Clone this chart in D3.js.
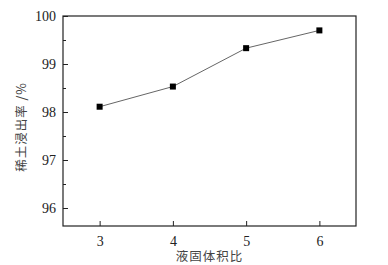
<!DOCTYPE html>
<html>
<head>
    <meta charset="utf-8">
    <script src="https://d3js.org/d3.v7.min.js"></script>
</head>
<style>
    body {
        margin: 0px;
        background-color: white;
    }

    .tick text {
        font-family: "Liberation Serif", "Times New Roman", serif;
        font-size: 14px;
        fill: #222;
    }

    .axis-title {
        font-family: "Noto Sans CJK SC", sans-serif;
        font-size: 12.5px;
        letter-spacing: 1px;
        fill: #444;
    }
</style>
<body>
    <svg id="svg"></svg>

    <script>
        // liquid/solid volume ratio vs rare earth leaching rate
        var ratios = [3, 4, 5, 6]
        var leachRate = [98.11, 98.53, 99.33, 99.70]
        var xTicks = [3, 4, 5, 6]
        var yTicks = [96, 97, 98, 99, 100]
        var yMinor = [95.5, 96.5, 97.5, 98.5, 99.5]

        var width = 388
        var height = 265
        var margin = { top: 16, right: 32, bottom: 39, left: 63 }

        var svg = d3.select("svg")
            .attr("width", width)
            .attr("height", height)

        var x = d3.scaleLinear()
            .domain([2.5, 6.5])
            .range([margin.left, width - margin.right])

        var y = d3.scaleLinear()
            .domain([95.625, 100])
            .range([height - margin.bottom, margin.top])

        // ticks point inward
        var xAxis = svg.append("g")
            .attr("transform", "translate(0," + (height - margin.bottom) + ")")
            .call(d3.axisBottom(x).tickValues(xTicks).tickSize(-5).tickPadding(10).tickFormat(d3.format("d")))
        xAxis.select(".domain").remove()

        var yAxis = svg.append("g")
            .attr("transform", "translate(" + margin.left + ",0)")
            .call(d3.axisLeft(y).tickValues(yTicks).tickSize(-5).tickPadding(7).tickFormat(d3.format("d")))
        yAxis.select(".domain").remove()

        svg.append("g")
            .attr("transform", "translate(" + margin.left + ",0)")
            .call(d3.axisLeft(y).tickValues(yMinor.filter(d => d > 95.625)).tickSize(-3).tickFormat(""))
            .select(".domain").remove()

        svg.selectAll(".tick line").attr("stroke", "#222")

        // frame
        svg.append("rect")
            .attr("x", margin.left)
            .attr("y", margin.top)
            .attr("width", width - margin.left - margin.right)
            .attr("height", height - margin.top - margin.bottom)
            .attr("fill", "none")
            .attr("stroke", "#222")
            .attr("stroke-width", 1.2)

        var points = ratios.map((r, i) => ({ r: r, v: leachRate[i] }))

        svg.append("path")
            .datum(points)
            .attr("fill", "none")
            .attr("stroke", "#666")
            .attr("stroke-width", 1)
            .attr("d", d3.line().x(d => x(d.r)).y(d => y(d.v)))

        svg.selectAll(".marker")
            .data(points)
            .join("rect")
            .attr("class", "marker")
            .attr("x", d => x(d.r) - 3)
            .attr("y", d => y(d.v) - 3)
            .attr("width", 6)
            .attr("height", 6)
            .attr("fill", "black")

        svg.append("text")
            .attr("class", "axis-title")
            .attr("x", (margin.left + width - margin.right) / 2)
            .attr("y", 261)
            .attr("text-anchor", "middle")
            .text("液固体积比")

        svg.append("text")
            .attr("class", "axis-title")
            .attr("transform", "translate(26," + 127 + ") rotate(-90)")
            .attr("text-anchor", "middle")
            .text("稀土浸出率 /%")
    </script>
</body>
</html>
